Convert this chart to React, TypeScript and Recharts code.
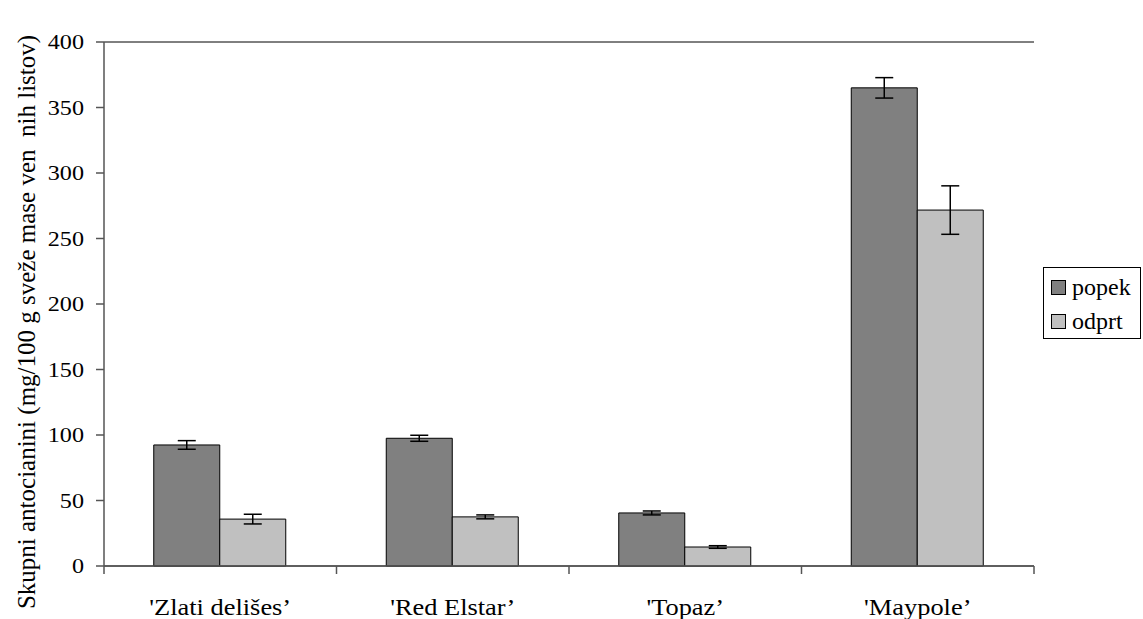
import React from "react";
import { BarChart, Bar, XAxis, YAxis, CartesianGrid, ErrorBar, Legend } from "recharts";

const categories = ["'Zlati delišes’", "'Red Elstar’", "'Topaz’", "'Maypole’"];
const popek = [92.4, 97.5, 40.5, 365];
const popekErr = [3.3, 2.3, 1.5, 7.8];
const odprt = [35.8, 37.5, 14.5, 271.7];
const odprtErr = [3.7, 1.5, 1, 18.5];
const yTicks = [0, 50, 100, 150, 200, 250, 300, 350, 400];
const seriesNames = ["popek", "odprt"];
const seriesColors = ["#808080", "#C0C0C0"];
const yLabel = "Skupni antocianini (mg/100 g sveže mase ven  nih listov)";

const data = categories.map((c, i) => ({
  name: c,
  popek: popek[i],
  popekErr: popekErr[i],
  odprt: odprt[i],
  odprtErr: odprtErr[i],
}));

const FONT = '"Liberation Serif", "Times New Roman", serif';
const AXIS_COLOR = "#555";

const YLabel = (props: any) => {
  const vb = props.viewBox || {};
  const cy = vb.y + vb.height / 2 + 18;
  return (
    <text
      x={26}
      y={cy}
      transform={`rotate(-90, 26, ${cy})`}
      textAnchor="middle"
      dominantBaseline="central"
      fontFamily={FONT}
      fontSize={25}
      fill="#000"
      style={{ whiteSpace: "pre" }}
    >
      {yLabel}
    </text>
  );
};

const XTick = (props: any) => {
  const { x, y, payload, index } = props;
  const off = (payload && payload.offset) || 0;
  const last = index === categories.length - 1;
  return (
    <g>
      <line x1={x - off} x2={x - off} y1={y} y2={y + 8} stroke={AXIS_COLOR} strokeWidth={1.5} />
      {last && <line x1={x + off} x2={x + off} y1={y} y2={y + 8} stroke={AXIS_COLOR} strokeWidth={1.5} />}
      <text
        transform={`translate(${x},${y + 32}) scale(1.1,1)`}
        textAnchor="middle"
        dy="0.71em"
        fontFamily={FONT}
        fontSize={24}
        fill="#000"
      >
        {payload.value}
      </text>
    </g>
  );
};

const YTick = (props: any) => {
  const { x, y, payload } = props;
  return (
    <text
      transform={`translate(${x},${y}) scale(1.15,1)`}
      textAnchor="end"
      dy="0.355em"
      fontFamily={FONT}
      fontSize={21}
      fill="#000"
    >
      {payload.value}
    </text>
  );
};

const LegendBox = () => (
  <div
    style={{
      border: "1px solid #000",
      width: 98,
      height: 72,
      boxSizing: "border-box",
      fontFamily: FONT,
      fontSize: 24,
      color: "#000",
      padding: "4px 0 0 7px",
      background: "#fff",
      lineHeight: "28px",
    }}
  >
    {seriesNames.map((n, i) => (
      <div key={n} style={{ display: "flex", alignItems: "center", height: 30, marginBottom: i === 0 ? 4 : 0 }}>
        <span
          style={{
            display: "inline-block",
            width: 13,
            height: 13,
            background: seriesColors[i],
            border: "1px solid #000",
            marginRight: 6,
            flexShrink: 0,
          }}
        />
        <span>{n}</span>
      </div>
    ))}
  </div>
);

export default function App() {
  return (
    <div style={{ position: "absolute", left: 0, top: 0, background: "#fff" }}>
      <BarChart
        width={1143}
        height={619}
        data={data}
        margin={{ top: 42, right: 9, bottom: 0, left: 0 }}
        barGap={0}
        barCategoryGap="21.4%"
        style={{ fontFamily: FONT }}
      >
        <CartesianGrid horizontal vertical={false} stroke="#000" strokeWidth={1} />
        <XAxis
          dataKey="name"
          height={53}
          axisLine={{ stroke: AXIS_COLOR, strokeWidth: 1.5 }}
          tickLine={false}
          tickSize={0}
          tickMargin={0}
          interval={0}
          tick={<XTick />}
        />
        <YAxis
          yAxisId="left"
          width={104}
          domain={[0, 400]}
          ticks={yTicks}
          axisLine={{ stroke: AXIS_COLOR, strokeWidth: 1.5 }}
          tickLine={{ stroke: AXIS_COLOR, strokeWidth: 1.5 }}
          tickSize={8}
          tickMargin={12}
          tick={<YTick />}
          label={<YLabel />}
        />
        <YAxis
          yAxisId="right"
          orientation="right"
          width={0}
          domain={[0, 400]}
          ticks={yTicks}
          axisLine={{ stroke: "#999", strokeWidth: 1.5 }}
          tick={false}
          tickLine={false}
        />
        <Legend
          layout="vertical"
          align="right"
          verticalAlign="middle"
          content={<LegendBox />}
          wrapperStyle={{ width: 100, height: 72, left: 1043, top: 267 }}
        />
        <Bar
          yAxisId="left"
          dataKey="popek"
          name="popek"
          fill={seriesColors[0]}
          stroke="#000"
          strokeWidth={1}
          isAnimationActive={false}
        >
          <ErrorBar dataKey="popekErr" width={9} stroke="#000" strokeWidth={1.5} />
        </Bar>
        <Bar
          yAxisId="left"
          dataKey="odprt"
          name="odprt"
          fill={seriesColors[1]}
          stroke="#000"
          strokeWidth={1}
          isAnimationActive={false}
        >
          <ErrorBar dataKey="odprtErr" width={9} stroke="#000" strokeWidth={1.5} />
        </Bar>
      </BarChart>
    </div>
  );
}
